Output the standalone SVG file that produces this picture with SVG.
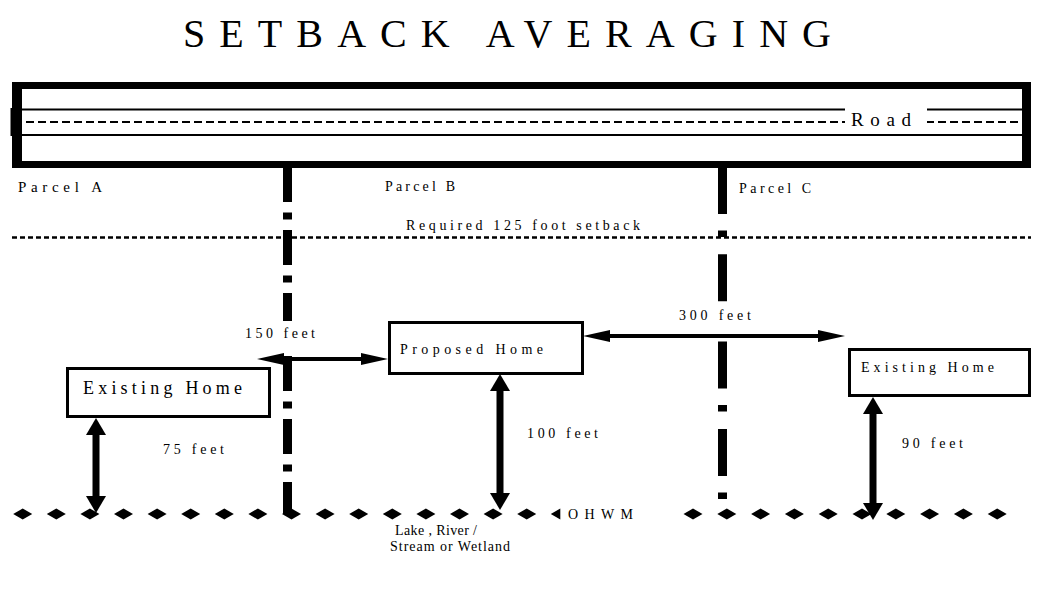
<svg xmlns="http://www.w3.org/2000/svg" xmlns:xlink="http://www.w3.org/1999/xlink" width="1037" height="591" viewBox="0 0 1037 591">
<defs>
<style>
text{font-family:"Liberation Serif","Times New Roman",serif;fill:#000}
.t14{font-size:14px}
.bg{fill:#fff}
.home{fill:#fff;stroke:#000;stroke-width:3}
.harrow{stroke:#000;stroke-width:4;fill:none;marker-start:url(#hh);marker-end:url(#hh)}
.varrow{stroke:#000;stroke-width:7;fill:none;marker-start:url(#vh);marker-end:url(#vh)}
</style>
<marker id="hh" markerUnits="userSpaceOnUse" markerWidth="28" markerHeight="13" refX="0" refY="6" orient="auto-start-reverse" viewBox="0 0 28 12" overflow="visible">
<path d="M0,0 L27,6 L0,12 z" fill="#000"/>
</marker>
<marker id="vh" markerUnits="userSpaceOnUse" markerWidth="18" markerHeight="21" refX="0" refY="10" orient="auto-start-reverse" viewBox="0 0 18 20" overflow="visible">
<path d="M0,0 L17,10 L0,20 z" fill="#000"/>
</marker>
<path id="dia" d="M-9.5,0 L0,-5.5 L9.5,0 L0,5.5 z" fill="#000"/>
</defs>
<rect width="1037" height="591" fill="#fff"/>

<text id="title" x="183" y="47" style="font-size:40px" textLength="648" lengthAdjust="spacing">SETBACK AVERAGING</text>

<g id="road">
<path d="M12,82 H1031 V168 H12 Z M22,89 V161 H1022 V89 Z" fill="#000" fill-rule="evenodd"/>
<rect x="10.5" y="108" width="2" height="28" fill="#000"/>
<line x1="22" y1="109.5" x2="1022" y2="109.5" stroke="#000" stroke-width="2"/>
<line x1="26" y1="122" x2="1022" y2="122" stroke="#000" stroke-width="2" stroke-dasharray="8 4"/>
<line x1="22" y1="135" x2="1022" y2="135" stroke="#000" stroke-width="2"/>
<rect class="bg" x="845" y="103" width="82" height="28"/>
<text x="851" y="126" style="font-size:19px" textLength="60" lengthAdjust="spacing">Road</text>
</g>

<g id="connectors">
<line id="parcel-line-b" x1="287.5" y1="167" x2="287.5" y2="514" stroke="#000" stroke-width="9" stroke-dasharray="35 10.5 7 10.5"/>
<line id="parcel-line-c" x1="722.5" y1="167" x2="722.5" y2="505" stroke="#000" stroke-width="9" stroke-dasharray="47 16.5 6.5 17.3"/>
<line id="setback-line" x1="12" y1="237.5" x2="1031" y2="237.5" stroke="#000" stroke-width="2.5" stroke-dasharray="5 3"/>
</g>

<g id="labels">
<text class="t14" x="18" y="192" style="font-size:15px" textLength="84" lengthAdjust="spacing">Parcel A</text>
<text class="t14" x="385" y="191" textLength="70" lengthAdjust="spacing">Parcel B</text>
<text class="t14" x="739" y="193" textLength="72" lengthAdjust="spacing">Parcel C</text>
<text class="t14" x="406" y="230" textLength="234" lengthAdjust="spacing">Required 125 foot setback</text>
<rect class="bg" x="240" y="321" width="80" height="33"/>
<text class="t14" x="245" y="338" textLength="70" lengthAdjust="spacing">150 feet</text>
<rect class="bg" x="672" y="302" width="86" height="28"/>
<text class="t14" x="679" y="320" textLength="72" lengthAdjust="spacing">300 feet</text>
<text class="t14" x="163" y="454" textLength="61" lengthAdjust="spacing">75 feet</text>
<text class="t14" x="527" y="438" textLength="71" lengthAdjust="spacing">100 feet</text>
<text class="t14" x="902" y="448" textLength="61" lengthAdjust="spacing">90 feet</text>
<text class="t14" x="568" y="519" textLength="65" lengthAdjust="spacing">OHWM</text>
<text class="t14" x="395" y="535" textLength="82" lengthAdjust="spacing">Lake , River /</text>
<text class="t14" x="390" y="551" textLength="120" lengthAdjust="spacing">Stream or Wetland</text>
</g>

<g id="home-a">
<rect class="home" x="67.5" y="368.5" width="202" height="48"/>
<text x="83" y="394" style="font-size:18px" textLength="159" lengthAdjust="spacing">Existing Home</text>
</g>
<g id="home-proposed">
<rect class="home" x="389.5" y="322.5" width="193" height="51"/>
<text class="t14" x="400" y="354" textLength="143" lengthAdjust="spacing">Proposed Home</text>
</g>
<g id="home-c">
<rect class="home" x="849.5" y="349.5" width="180" height="46"/>
<text class="t14" x="861" y="372" textLength="133" lengthAdjust="spacing">Existing Home</text>
</g>

<g id="ohwm">
<use xlink:href="#dia" x="22.7" y="514"/><use xlink:href="#dia" x="56.3" y="514"/><use xlink:href="#dia" x="89.9" y="514"/><use xlink:href="#dia" x="123.5" y="514"/>
<use xlink:href="#dia" x="157.1" y="514"/><use xlink:href="#dia" x="190.7" y="514"/><use xlink:href="#dia" x="224.3" y="514"/><use xlink:href="#dia" x="257.9" y="514"/>
<use xlink:href="#dia" x="291.5" y="514"/><use xlink:href="#dia" x="325.1" y="514"/><use xlink:href="#dia" x="358.7" y="514"/><use xlink:href="#dia" x="392.3" y="514"/>
<use xlink:href="#dia" x="425.9" y="514"/><use xlink:href="#dia" x="459.5" y="514"/><use xlink:href="#dia" x="493.1" y="514"/><use xlink:href="#dia" x="526.7" y="514"/>
<path d="M550.8,514 L560.3,508.5 L560.3,519.5 z" fill="#000"/>
<use xlink:href="#dia" x="693" y="514"/><use xlink:href="#dia" x="726.8" y="514"/><use xlink:href="#dia" x="760.6" y="514"/><use xlink:href="#dia" x="794.4" y="514"/>
<use xlink:href="#dia" x="828.2" y="514"/><use xlink:href="#dia" x="862" y="514"/><use xlink:href="#dia" x="895.8" y="514"/><use xlink:href="#dia" x="929.6" y="514"/>
<use xlink:href="#dia" x="963.4" y="514"/><use xlink:href="#dia" x="997.2" y="514"/>
</g>

<g id="arrows">
<line class="harrow" x1="284" y1="359" x2="361" y2="359"/>
<line class="harrow" x1="610" y1="336" x2="818" y2="336"/>
<line class="varrow" x1="96" y1="435" x2="96" y2="496"/>
<line class="varrow" x1="500" y1="391" x2="500" y2="493"/>
<line class="varrow" x1="873" y1="414" x2="873" y2="503"/>
</g>
</svg>
